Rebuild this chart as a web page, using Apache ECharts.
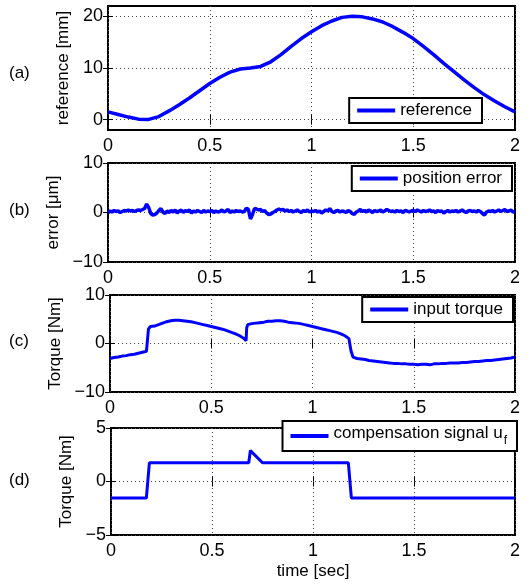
<!DOCTYPE html>
<html>
<head>
<meta charset="utf-8">
<script src="https://cdn.jsdelivr.net/npm/echarts@6/dist/echarts.min.js"></script>
<style>
  html, body { margin: 0; padding: 0; background: #fff; }
  #chart { width: 530px; height: 586px; }
</style>
</head>
<body>
<div id="chart"></div>
<script>
// time ticks shared by every panel
const timeTicks = [0, 0.5, 1, 1.5, 2];

// (a) reference position [mm], sampled every 0.05 s
const refStep = 0.05;
const refValues = [
  1.5, 1.0, 0.5, 0.1, 0.05, 0.6, 1.7, 2.9, 4.2, 5.6,
  7.0, 8.2, 9.2, 9.8, 10.0, 10.3, 11.2, 12.6, 14.2, 15.7,
  17.0, 18.2, 19.1, 19.8, 20.0, 19.9, 19.5, 18.9, 18.0, 16.9,
  15.7, 14.2, 12.6, 10.9, 9.3, 7.7, 6.2, 4.8, 3.6, 2.5,
  1.5
];
const refTicks = [0, 10, 20];

// (b) position error [um], sampled every 0.01 s
const errStep = 0.01;
const errValues = [
  0.0, 0.3, 0.1, 0.4, 0.2, 0.3, 0.0, 0.2, 0.4, 0.3,
  0.5, 0.3, 0.4, 0.2, 0.4, 0.5, 0.4, 0.6, 0.8, 1.7,
  1.0, -0.2, -0.5, -0.4, -0.1, 0.4, 0.8, 0.1, -0.2, 0.3,
  0.0, 0.4, 0.1, 0.5, -0.1, 0.3, 0.5, 0.0, 0.4, 0.2,
  0.5, -0.1, 0.3, 0.1, 0.4, 0.2, 0.0, 0.4, 0.1, 0.3,
  0.2, 0.4, 0.0, 0.3, 0.1, 0.2, 0.5, 0.1, 0.3, 0.6,
  0.0, 0.3, 0.1, 0.4, 0.2, 0.3, 0.1, 0.2, 0.9, 0.6,
  -1.3, -0.4, 0.8, 0.7, 0.5, 0.6, 0.2, 0.4, -0.1, -0.4,
  -0.3, 0.0, 0.2, 0.5, 0.7, 0.5, 0.6, 0.3, 0.5, 0.2,
  0.4, 0.1, 0.3, 0.5, 0.2, 0.0, 0.4, 0.2, 0.5, 0.1,
  0.3, 0.2, 0.4, 0.1, 0.3, -0.1, 0.2, 0.5, 0.3, 0.8,
  0.2, 0.0, 0.3, 0.4, 0.1, 0.3, 0.2, 0.0, 0.4, 0.2,
  -0.2, -0.4, 0.1, 0.3, 0.6, 0.2, 0.4, 0.1, 0.5, 0.3,
  0.0, 0.4, 0.2, 0.3, 0.5, 0.1, 0.3, 0.6, 0.4, 0.2,
  0.3, 0.1, 0.4, 0.2, 0.3, 0.0, 0.4, 0.3, 0.1, 0.3,
  0.4, 0.2, 0.5, 0.3, 0.1, 0.4, 0.2, 0.3, 0.5, 0.2,
  0.3, 0.0, 0.4, 0.2, 0.3, -0.1, 0.2, 0.4, 0.1, 0.3,
  0.2, 0.4, 0.1, 0.3, 0.5, 0.2, 0.0, 0.3, 0.4, 0.2,
  0.3, 0.1, 0.4, 0.2, -0.2, -0.5, 0.1, 0.3, 0.2, 0.4,
  0.1, 0.3, 0.5, 0.2, 0.4, 0.6, 0.2, 0.3, 0.5, 0.1,
  0.2
];
const errTicks = [-10, 0, 10];

// (c) input torque [Nm], [time, value]
const torquePoints = [
  [0, -3.1], [0.02, -2.9], [0.04, -2.8], [0.06, -2.6], [0.08, -2.5], [0.10, -2.3],
  [0.12, -2.2], [0.14, -2.0], [0.16, -1.8], [0.18, -1.6], [0.185, -1.3], [0.19, 3.0],
  [0.20, 3.5], [0.22, 3.6], [0.24, 3.9], [0.26, 4.2], [0.28, 4.5], [0.30, 4.7],
  [0.32, 4.8], [0.34, 4.8], [0.36, 4.7], [0.38, 4.6], [0.40, 4.5], [0.42, 4.3],
  [0.44, 4.1], [0.46, 3.9], [0.48, 3.7], [0.50, 3.5], [0.52, 3.3], [0.54, 3.1],
  [0.56, 2.9], [0.58, 2.6], [0.60, 2.3], [0.62, 2.0], [0.64, 1.6], [0.66, 1.1],
  [0.672, 0.6], [0.675, 3.2], [0.68, 3.9], [0.70, 4.1], [0.72, 4.2], [0.74, 4.3],
  [0.76, 4.4], [0.78, 4.6], [0.80, 4.6], [0.82, 4.7], [0.84, 4.7], [0.86, 4.6],
  [0.88, 4.4], [0.90, 4.3], [0.92, 4.2], [0.94, 4.1], [0.96, 3.9], [0.98, 3.7],
  [1.00, 3.5], [1.02, 3.3], [1.04, 3.1], [1.06, 2.9], [1.08, 2.7], [1.10, 2.5],
  [1.12, 2.3], [1.14, 2.0], [1.16, 1.6], [1.18, 1.0], [1.19, -1.5], [1.20, -2.8],
  [1.22, -3.1], [1.24, -3.2], [1.26, -3.3], [1.28, -3.5], [1.30, -3.6], [1.32, -3.7],
  [1.34, -3.8], [1.36, -3.9], [1.38, -4.0], [1.40, -4.1], [1.42, -4.1], [1.44, -4.2],
  [1.46, -4.2], [1.48, -4.3], [1.50, -4.3], [1.52, -4.4], [1.54, -4.3], [1.56, -4.3],
  [1.58, -4.4], [1.60, -4.2], [1.62, -4.2], [1.64, -4.1], [1.66, -4.1], [1.68, -4.0],
  [1.70, -4.0], [1.72, -4.0], [1.74, -3.9], [1.76, -3.9], [1.78, -3.8], [1.80, -3.7],
  [1.82, -3.7], [1.84, -3.6], [1.86, -3.5], [1.88, -3.5], [1.90, -3.4], [1.92, -3.3],
  [1.94, -3.2], [1.96, -3.1], [1.98, -3.0], [2.00, -2.8]
];
const torqueTicks = [-10, 0, 10];

// (d) compensation signal u_f [Nm], [time, value]
const compPoints = [
  [0, -1.55], [0.175, -1.55], [0.19, 1.75], [0.682, 1.75], [0.69, 2.9],
  [0.70, 2.7], [0.75, 1.75], [1.175, 1.75], [1.19, -1.55], [2, -1.55]
];
const compTicks = [-5, 0, 5];

const FONT = 'Liberation Sans, Arial, Helvetica, sans-serif';
const BLUE = '#0000ff';
const TICK_FONT = 18;
const TEXT_FONT = 17;

function tickText(v) {
  return String(v).replace('-', '\u2212');
}

function makeGrid(left, top, height) {
  return { left: left, right: 15, top: top, height: height, show: true, borderColor: '#000', borderWidth: 2 };
}

const dotted = { show: true, lineStyle: { color: '#444', width: 1, type: [1, 3] } };

function makeXAxis(gridIndex, extra) {
  return Object.assign({
    type: 'value',
    gridIndex: gridIndex,
    min: 0,
    max: 2,
    interval: 0.5,
    axisLine: { show: false },
    axisTick: { inside: true, length: 5, lineStyle: { color: '#000' }, customValues: timeTicks },
    axisLabel: { color: '#000', fontSize: TICK_FONT, fontFamily: FONT, margin: 7, customValues: timeTicks, formatter: tickText },
    splitLine: dotted
  }, extra || {});
}

// mirrored ticks on the top edge, like MATLAB's box
function makeTopAxis(gridIndex) {
  return {
    type: 'value', gridIndex: gridIndex, position: 'top', min: 0, max: 2, interval: 0.5,
    axisLine: { show: false },
    axisTick: { inside: true, length: 5, lineStyle: { color: '#000' }, customValues: timeTicks },
    axisLabel: { show: false },
    splitLine: { show: false }
  };
}

function makeYAxis(gridIndex, min, max, ticks, name, nameGap) {
  return {
    type: 'value',
    gridIndex: gridIndex,
    min: min,
    max: max,
    name: name,
    nameLocation: 'middle',
    nameGap: nameGap,
    nameTextStyle: { color: '#000', fontSize: TEXT_FONT, fontFamily: FONT },
    axisLine: { show: false },
    axisTick: { inside: true, length: 5, lineStyle: { color: '#000' }, customValues: ticks },
    axisLabel: { color: '#000', fontSize: TICK_FONT, fontFamily: FONT, margin: 5, customValues: ticks, formatter: tickText },
    splitLine: dotted
  };
}

function makeRightAxis(gridIndex, min, max, ticks) {
  return {
    type: 'value', gridIndex: gridIndex, position: 'right', min: min, max: max,
    axisLine: { show: false },
    axisTick: { inside: true, length: 5, lineStyle: { color: '#000' }, customValues: ticks },
    axisLabel: { show: false },
    splitLine: { show: false }
  };
}

function makeLegend(name, right, top, extra) {
  return Object.assign({
    data: [name],
    right: right,
    top: top,
    icon: 'rect',
    itemWidth: 38,
    itemHeight: 4,
    padding: [4, 10, 4, 8],
    backgroundColor: '#fff',
    borderColor: '#000',
    borderWidth: 2,
    borderRadius: 0,
    selectedMode: false,
    textStyle: { color: '#000', fontSize: TEXT_FONT, fontFamily: FONT }
  }, extra || {});
}

function makeLine(name, idx, data, width) {
  return {
    name: name,
    type: 'line',
    xAxisIndex: idx,
    yAxisIndex: idx,
    data: data,
    showSymbol: false,
    symbol: 'none',
    color: BLUE,
    lineStyle: { color: BLUE, width: width },
    animation: false
  };
}

const refData = refValues.map((v, i) => [i * refStep, v]);
const errData = errValues.map((v, i) => [i * errStep, v]);

const chart = echarts.init(document.getElementById('chart'));
chart.setOption({
  animation: false,
  backgroundColor: '#fff',
  grid: [
    makeGrid(108, 6, 124),
    makeGrid(108, 163, 99),
    makeGrid(110, 295, 97),
    makeGrid(111, 428, 107)
  ],
  xAxis: [
    makeXAxis(0),
    makeXAxis(1),
    makeXAxis(2),
    makeXAxis(3, {
      name: 'time [sec]',
      nameLocation: 'middle',
      nameGap: 28,
      nameTextStyle: { color: '#000', fontSize: TEXT_FONT, fontFamily: FONT }
    }),
    makeTopAxis(0),
    makeTopAxis(1),
    makeTopAxis(2),
    makeTopAxis(3)
  ],
  yAxis: [
    makeYAxis(0, -2, 22, refTicks, 'reference [mm]', 30),
    makeYAxis(1, -10, 10, errTicks, 'error [\u03bcm]', 44),
    makeYAxis(2, -10, 10, torqueTicks, 'Torque [Nm]', 44),
    makeYAxis(3, -5, 5, compTicks, 'Torque [Nm]', 33),
    makeRightAxis(0, -2, 22, refTicks),
    makeRightAxis(1, -10, 10, errTicks),
    makeRightAxis(2, -10, 10, torqueTicks),
    makeRightAxis(3, -5, 5, compTicks)
  ],
  legend: [
    makeLegend('reference', 48, 98),
    makeLegend('position error', 18, 166),
    makeLegend('input torque', 17, 297),
    makeLegend('compensation signal uf', 13, 421, {
      formatter: () => '{t|compensation signal u}{s|f}',
      textStyle: {
        color: '#000', fontSize: TEXT_FONT, fontFamily: FONT,
        rich: {
          t: { fontSize: TEXT_FONT, fontFamily: FONT, color: '#000', verticalAlign: 'top' },
          s: { fontSize: 12, fontFamily: FONT, color: '#000', verticalAlign: 'top', padding: [10, 0, 0, 1] }
        }
      }
    })
  ],
  graphic: [
    { type: 'text', left: 9, top: 65, style: { text: '(a)', font: '17px ' + FONT, fill: '#000' } },
    { type: 'text', left: 9, top: 202, style: { text: '(b)', font: '17px ' + FONT, fill: '#000' } },
    { type: 'text', left: 9, top: 333, style: { text: '(c)', font: '17px ' + FONT, fill: '#000' } },
    { type: 'text', left: 9, top: 472, style: { text: '(d)', font: '17px ' + FONT, fill: '#000' } }
  ],
  series: [
    makeLine('reference', 0, refData, 3.5),
    makeLine('position error', 1, errData, 3.5),
    makeLine('input torque', 2, torquePoints, 3),
    makeLine('compensation signal uf', 3, compPoints, 3)
  ]
});
</script>
</body>
</html>
